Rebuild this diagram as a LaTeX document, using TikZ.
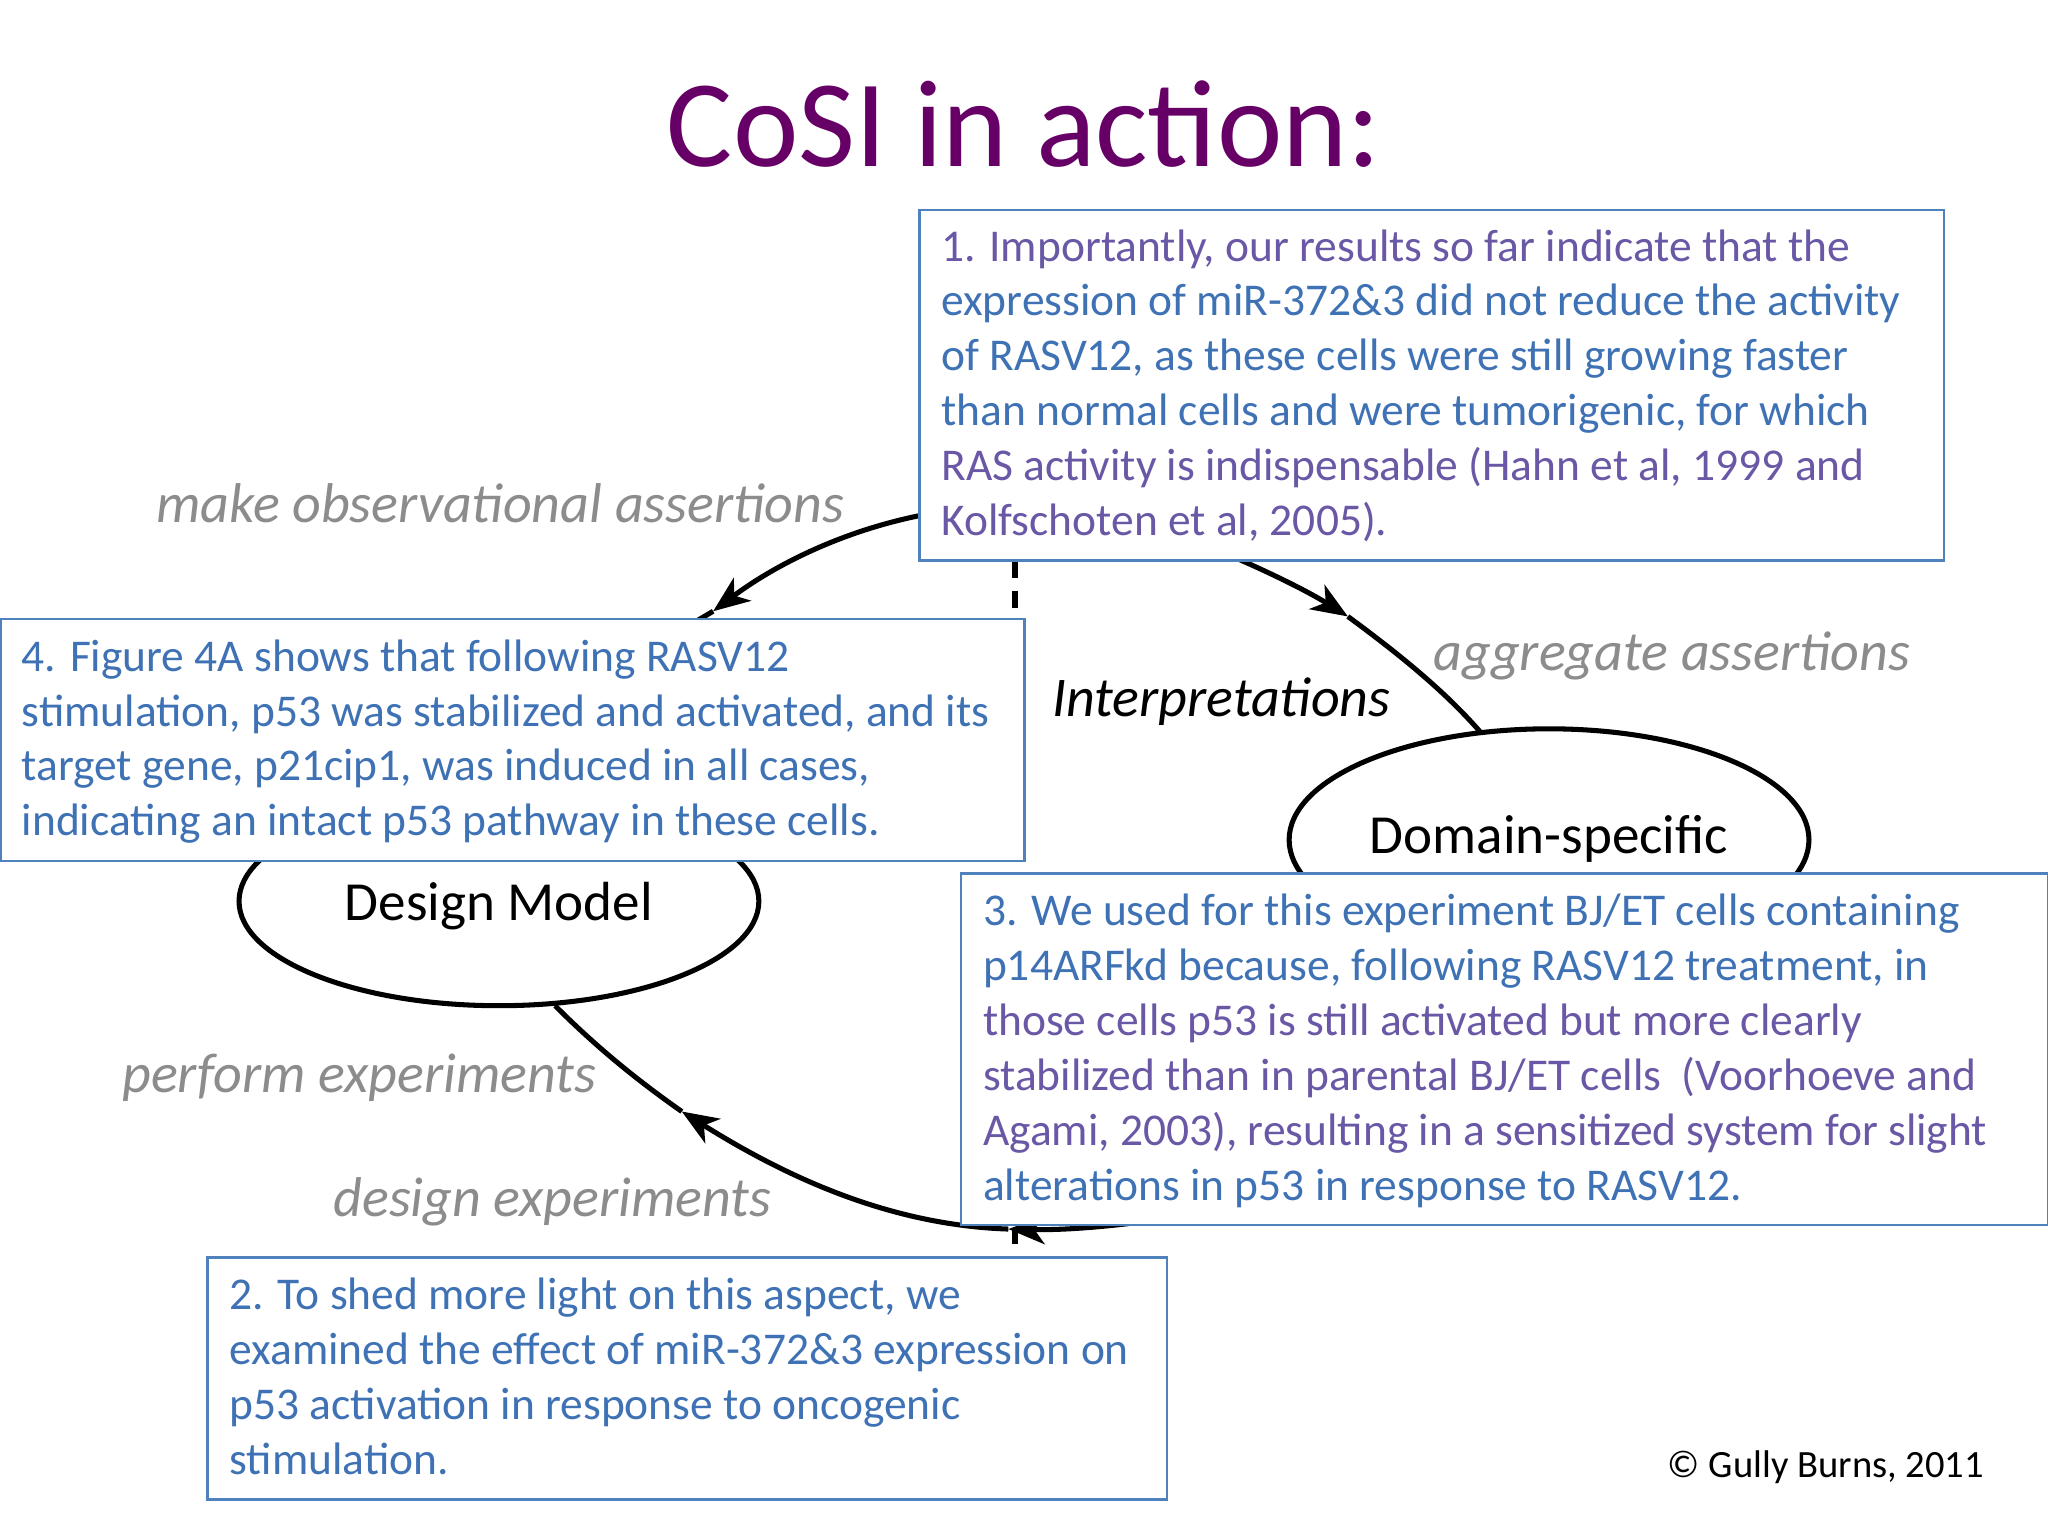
\documentclass[tikz,border=0pt]{standalone}
\usepackage{fontspec}
\setmainfont{Carlito}
\usetikzlibrary{arrows.meta}
\definecolor{ttl}{HTML}{660066}
\definecolor{bx}{HTML}{4F81BD}
\definecolor{tb}{HTML}{3F72B5}
\definecolor{tp}{HTML}{6A58A6}
\definecolor{gr}{HTML}{8C8C8C}
\begin{document}
\begin{tikzpicture}[x=0.01cm,y=-0.01cm,
  box/.style={draw=bx,line width=0.5pt,fill=white,inner sep=0pt,anchor=north west},
  btext/.style={anchor=north west,align=left,inner sep=0pt,font=\fontsize{9.9pt}{11.95pt}\selectfont},
  lab/.style={font=\fontsize{12.2pt}{13pt}\selectfont\itshape,text=gr},
  arc/.style={line width=1.1pt},
  tip/.style={-{Stealth[length=0.28cm,width=0.22cm,inset=0.08cm]}}]
\useasboundingbox (0,0) rectangle (1568,1176);
\node[font=\fontsize{27pt}{29pt}\selectfont,text=ttl] (title) at (784,95) {CoSI in action:};
% ellipses
\draw[arc] (382,690) ellipse [x radius=199, y radius=80];
\draw[arc] (1186,643) ellipse [x radius=199, y radius=85];
\node[font=\fontsize{12pt}{13pt}\selectfont] (dm) at (382,694) {Design Model};
\node[font=\fontsize{12pt}{13pt}\selectfont] (ds) at (1186,642) {Domain-specific};
% cycle arcs
\coordinate (a0) at (703,395); \coordinate (a1) at (546,468); \coordinate (a2) at (500,495);
\draw[arc,tip] (a0) .. controls (640,408) and (590,435) .. (a1);
\draw[arc] (a1) -- (a2);
\coordinate (b0) at (948,428); \coordinate (b1) at (1032,472); \coordinate (b2) at (1133,560);
\draw[arc,tip] (b0) .. controls (980,442) and (1005,455) .. (b1);
\draw[arc] (b1) .. controls (1070,500) and (1105,528) .. (b2);
\coordinate (c0) at (900,932); \coordinate (c1) at (772,941); \coordinate (c2) at (522,851); \coordinate (c3) at (425,770);
\draw[arc,tip] (c0) .. controls (860,938) and (820,942) .. (c1);
\draw[arc,tip] (c1) .. controls (680,938) and (600,900) .. (c2);
\draw[arc] (c2) .. controls (485,825) and (455,800) .. (c3);
\coordinate (d0) at (777,430); \coordinate (d1) at (777,474);
\coordinate (d2) at (777,940); \coordinate (d3) at (777,962);
\draw[line width=1.3pt,dash pattern=on 3.5pt off 3pt] (d0) -- (d1);
\draw[line width=1.3pt,dash pattern=on 3.5pt off 3pt] (d2) -- (d3);
% labels
\node[lab] (l1) at (383,385) {make observational assertions};
\node[lab] (l2) at (1280,502) {aggregate assertions};
\node[lab] (l3) at (275,825) {perform experiments};
\node[lab] (l4) at (423,920) {design experiments};
\node[font=\fontsize{12.2pt}{13pt}\selectfont\itshape] (l5) at (935,537) {Interpretations};
\node[font=\fontsize{8.4pt}{10pt}\selectfont] (cp) at (1398,1123) {© Gully Burns, 2011};
% boxes
\node[box,minimum width=7.84cm,minimum height=2.68cm] (B1) at (703,160) {};
\node[btext] (T1) at (720,175) {\color{tp}1. Importantly, our results so far indicate that the\\\color{tb}expression of miR-372\&3 did not reduce the activity\\\color{tb}of RASV12, as these cells were still growing faster\\\color{tb}than normal cells and were tumorigenic, for which\\\color{tp}RAS activity is indispensable (Hahn et al, 1999 and\\\color{tp}Kolfschoten et al, 2005).};
\node[box,minimum width=7.83cm,minimum height=1.85cm] (B4) at (0,473) {};
\node[btext,text=tb] (T4) at (16,489) {4. Figure 4A shows that following RASV12\\stimulation, p53 was stabilized and activated, and its\\target gene, p21cip1, was induced in all cases,\\indicating an intact p53 pathway in these cells.};
\node[box,minimum width=8.32cm,minimum height=2.69cm] (B3) at (735,668) {};
\node[btext] (T3) at (752,684) {\color{tb}3. We used for this experiment BJ/ET cells containing\\\color{tb}p14ARFkd because, following RASV12 treatment, in\\\color{tp}those cells p53 is still activated but more clearly\\\color{tp}stabilized than in parental BJ/ET cells~ (Voorhoeve and\\\color{tp}Agami, 2003), resulting in a sensitized system for slight\\\color{tb}alterations in p53 in response to RASV12.};
\node[box,minimum width=7.34cm,minimum height=1.85cm] (B2) at (158,962) {};
\node[btext,text=tb] (T2) at (175,978) {2. To shed more light on this aspect, we\\examined the effect of miR-372\&3 expression on\\p53 activation in response to oncogenic\\stimulation.};
\end{tikzpicture}
\end{document}
